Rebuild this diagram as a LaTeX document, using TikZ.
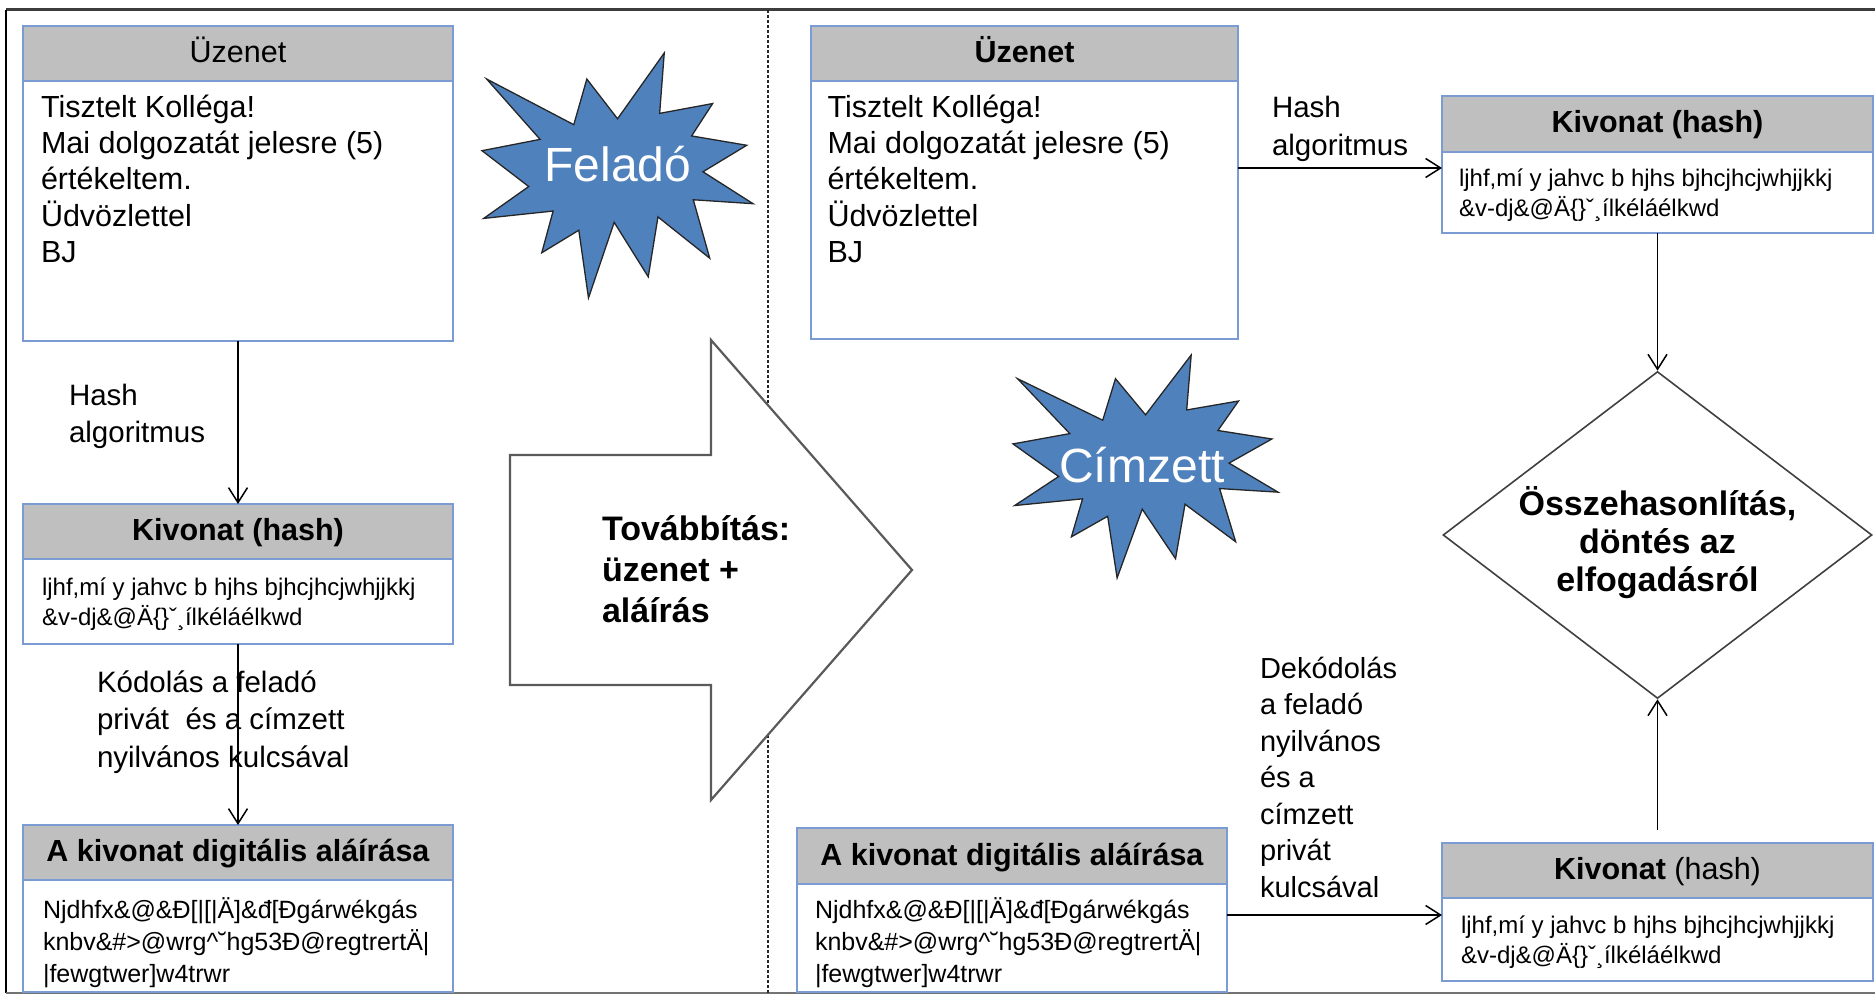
\documentclass[tikz,border=0pt]{standalone}
\usepackage{fontspec}
\setmainfont{Liberation Sans}
\usetikzlibrary{arrows.meta, shapes.geometric, positioning, calc}
\definecolor{BoxBlue}{HTML}{7A9CD3}
\definecolor{HeadGray}{HTML}{BFBFBF}
\definecolor{StarBlue}{HTML}{4F81BD}
\definecolor{ArrowGray}{HTML}{5A5A5A}
\definecolor{LineGray}{HTML}{404040}
\definecolor{FrameGray}{HTML}{3C3C3C}

\begin{document}
\begin{tikzpicture}[
  x=1pt, y=-1pt,
  headbox/.style={draw=BoxBlue, line width=1.6pt, fill=HeadGray, minimum width=430pt, minimum height=55pt, inner sep=0pt, outer sep=0pt, text height=24pt, text depth=6pt, font=\fontsize{30.5}{35}\selectfont},
  bodybox/.style={draw=BoxBlue, line width=1.6pt, fill=white, minimum width=430pt, inner sep=0pt, outer sep=0pt},
  msgtext/.style={anchor=north west, inner sep=0pt, outer sep=0pt, align=left, font=\fontsize{30.5}{36.2}\selectfont},
  hashtext/.style={anchor=north west, inner sep=0pt, outer sep=0pt, align=left, font=\fontsize{24}{30}\selectfont},
  signtext/.style={hashtext, font=\fontsize{25}{32}\selectfont},
  edgetext/.style={anchor=north west, inner sep=0pt, outer sep=0pt, align=left, font=\fontsize{29.5}{37.5}\selectfont},
  decision/.style={diamond, draw=LineGray, line width=1.6pt, minimum width=429pt, minimum height=327pt, inner sep=0pt},
  decisiontext/.style={inner sep=0pt, align=center, font=\fontsize{34}{38}\selectfont\bfseries},
  conn/.style={-{Straight Barb[length=15pt, width=19pt]}, line width=1.5pt},
  burstline/.style={draw=black!85, line width=1.3pt, fill=StarBlue, line join=miter},
  startext/.style={anchor=base, inner sep=0pt, text=white, font=\fontsize{48}{56}\selectfont},
  bigarrow/.style={draw=ArrowGray, line width=2.2pt, fill=white, line join=miter},
  divider/.style={draw=black!85, line width=1.5pt, dash pattern=on 3pt off 2pt},
  burst/.pic={
    \path[burstline] (10.8,5.8) -- (14.522,0) -- (14.155,5.325) -- (18.38,4.457) -- (16.702,7.315)
      -- (21.097,8.137) -- (17.607,10.475) -- (21.6,13.29) -- (16.837,12.942) -- (18.145,18.095)
      -- (14.02,14.457) -- (13.247,19.737) -- (10.532,14.935) -- (8.485,21.6) -- (7.715,15.627)
      -- (4.762,17.617) -- (5.667,13.937) -- (0.135,14.587) -- (3.722,11.775) -- (0,8.615)
      -- (4.627,7.617) -- (0.37,2.295) -- (7.312,6.32) -- (8.352,2.295) -- cycle;
  }
]
\useasboundingbox (0,0) rectangle (1875,1000);

% frame and divider
\draw[FrameGray, line width=3pt] (1875,10) -- (6,10);
\draw[black, line width=1.8pt] (6,10) -- (6,993);
\draw[black!55, line width=2.5pt] (6,993) -- (1875,993);
\draw[divider] (768,10) -- (768,993);

% transfer arrow
\draw[bigarrow] (510,455) -- (711,455) -- (711,340) -- (912,570) -- (711,800) -- (711,685) -- (510,685) -- cycle;
\node[edgetext, font=\fontsize{34}{41}\selectfont\bfseries] (fwd) at (602,511.3) {\strut Továbbítás:\\üzenet +\\aláírás};

% bursts
\pic[xscale=12.55, yscale=11.34] at (482,53) {burst};
\node[startext] (sender) at (618,182) {Feladó};
\pic[xscale=12.27, yscale=10.32] at (1013,355) {burst};
\node[startext] (receiver) at (1142,482) {Címzett};

% sender side
\node[headbox] (msgLh) at (238,53.5) {Üzenet};
\node[bodybox, minimum height=260pt, below=0pt of msgLh] (msgLb) {};
\node[msgtext, below right=11.2pt and 18pt of msgLb.north west] (msgLt) {\strut Tisztelt Kolléga!\\Mai dolgozatát jelesre (5)\\értékeltem.\\Üdvözlettel\\BJ};

\node[headbox, below=163pt of msgLb] (hashLh) {\textbf{Kivonat (hash)}};
\node[bodybox, minimum height=85pt, below=0pt of hashLh] (hashLb) {};
\node[hashtext, below right=15pt and 19pt of hashLb.north west] (hashLt) {\strut ljhf,mí y jahvc b hjhs bjhcjhcjwhjjkkj\\\&v-dj\&@Ä\{\}ˇ¸ílkéláélkwd};

\node[headbox, below=181pt of hashLb] (signLh) {\textbf{A kivonat digitális aláírása}};
\node[bodybox, minimum height=112pt, below=0pt of signLh] (signLb) {};
\node[signtext, below right=15.6pt and 20pt of signLb.north west] (signLt) {\strut Njdhfx\&@\&Ð[|[|Ä]\&đ[Ðgárwékgás\\knbv\&\#>@wrg\textasciicircum˘hg53Ð@regtrertÄ|\\|fewgtwer]w4trwr};

% receiver side
\node[headbox, minimum width=427pt] (msgRh) at (1024.5,53.5) {\textbf{Üzenet}};
\node[bodybox, minimum width=427pt, minimum height=258pt, below=0pt of msgRh] (msgRb) {};
\node[msgtext, below right=11.2pt and 16.5pt of msgRb.north west] (msgRt) {\strut Tisztelt Kolléga!\\Mai dolgozatát jelesre (5)\\értékeltem.\\Üdvözlettel\\BJ};

\node[headbox, minimum width=431pt, minimum height=56pt] (hashR1h) at (1657.5,124) {\textbf{Kivonat (hash)}};
\node[bodybox, minimum width=431pt, minimum height=81pt, below=0pt of hashR1h] (hashR1b) {};
\node[hashtext, below right=14pt and 17pt of hashR1b.north west] (hashR1t) {\strut ljhf,mí y jahvc b hjhs bjhcjhcjwhjjkkj\\\&v-dj\&@Ä\{\}ˇ¸ílkéláélkwd};

\node[decision] (cmp) at (1657.5,535) {};
\node[decisiontext] (cmpt) at ([yshift=-8pt]cmp.center) {Összehasonlítás,\\döntés az\\elfogadásról};

\node[headbox, minimum width=431pt] (hashR2h) at (1657.5,870.5) {\textbf{Kivonat} (hash)};
\node[bodybox, minimum width=431pt, minimum height=83pt, below=0pt of hashR2h] (hashR2b) {};
\node[hashtext, below right=14pt and 19pt of hashR2b.north west] (hashR2t) {\strut ljhf,mí y jahvc b hjhs bjhcjhcjwhjjkkj\\\&v-dj\&@Ä\{\}ˇ¸ílkéláélkwd};

\node[headbox, minimum height=56pt] (signRh) at (1012,856) {\textbf{A kivonat digitális aláírása}};
\node[bodybox, minimum height=108pt, below=0pt of signRh] (signRb) {};
\node[signtext, below right=11.6pt and 18pt of signRb.north west] (signRt) {\strut Njdhfx\&@\&Ð[|[|Ä]\&đ[Ðgárwékgás\\knbv\&\#>@wrg\textasciicircum˘hg53Ð@regtrertÄ|\\|fewgtwer]w4trwr};

% connectors
\coordinate (hashR1in) at ([yshift=-16pt]hashR1b.north west);
\coordinate (hashR2in) at ([yshift=-17pt]hashR2b.north west);
\draw[conn] (msgLb) -- (hashLh);
\draw[conn] (hashLb) -- (signLh);
\draw[conn] (msgRb.east |- hashR1in) -- (hashR1in);
\draw[conn] (hashR1b) -- (cmp);
\draw[conn, shorten <=13pt] (hashR2h) -- (cmp);
\draw[conn] (signRb.east |- hashR2in) -- (hashR2in);

% connector texts
\node[edgetext] (hashLl) at (69,378.75) {\strut Hash\\algoritmus};
\node[edgetext] (hashRl) at (1272,91.75) {\strut Hash\\algoritmus};
\node[edgetext] (codeLl) at (97,665.75) {\strut Kódolás a feladó\\privát~ és a címzett\\nyilvános kulcsával};
\node[edgetext, font=\fontsize{29}{36.5}\selectfont] (decodeRl) at (1260,652.45) {\strut Dekódolás\\a feladó\\nyilvános\\és a\\címzett\\privát\\kulcsával};

\end{tikzpicture}
\end{document}
